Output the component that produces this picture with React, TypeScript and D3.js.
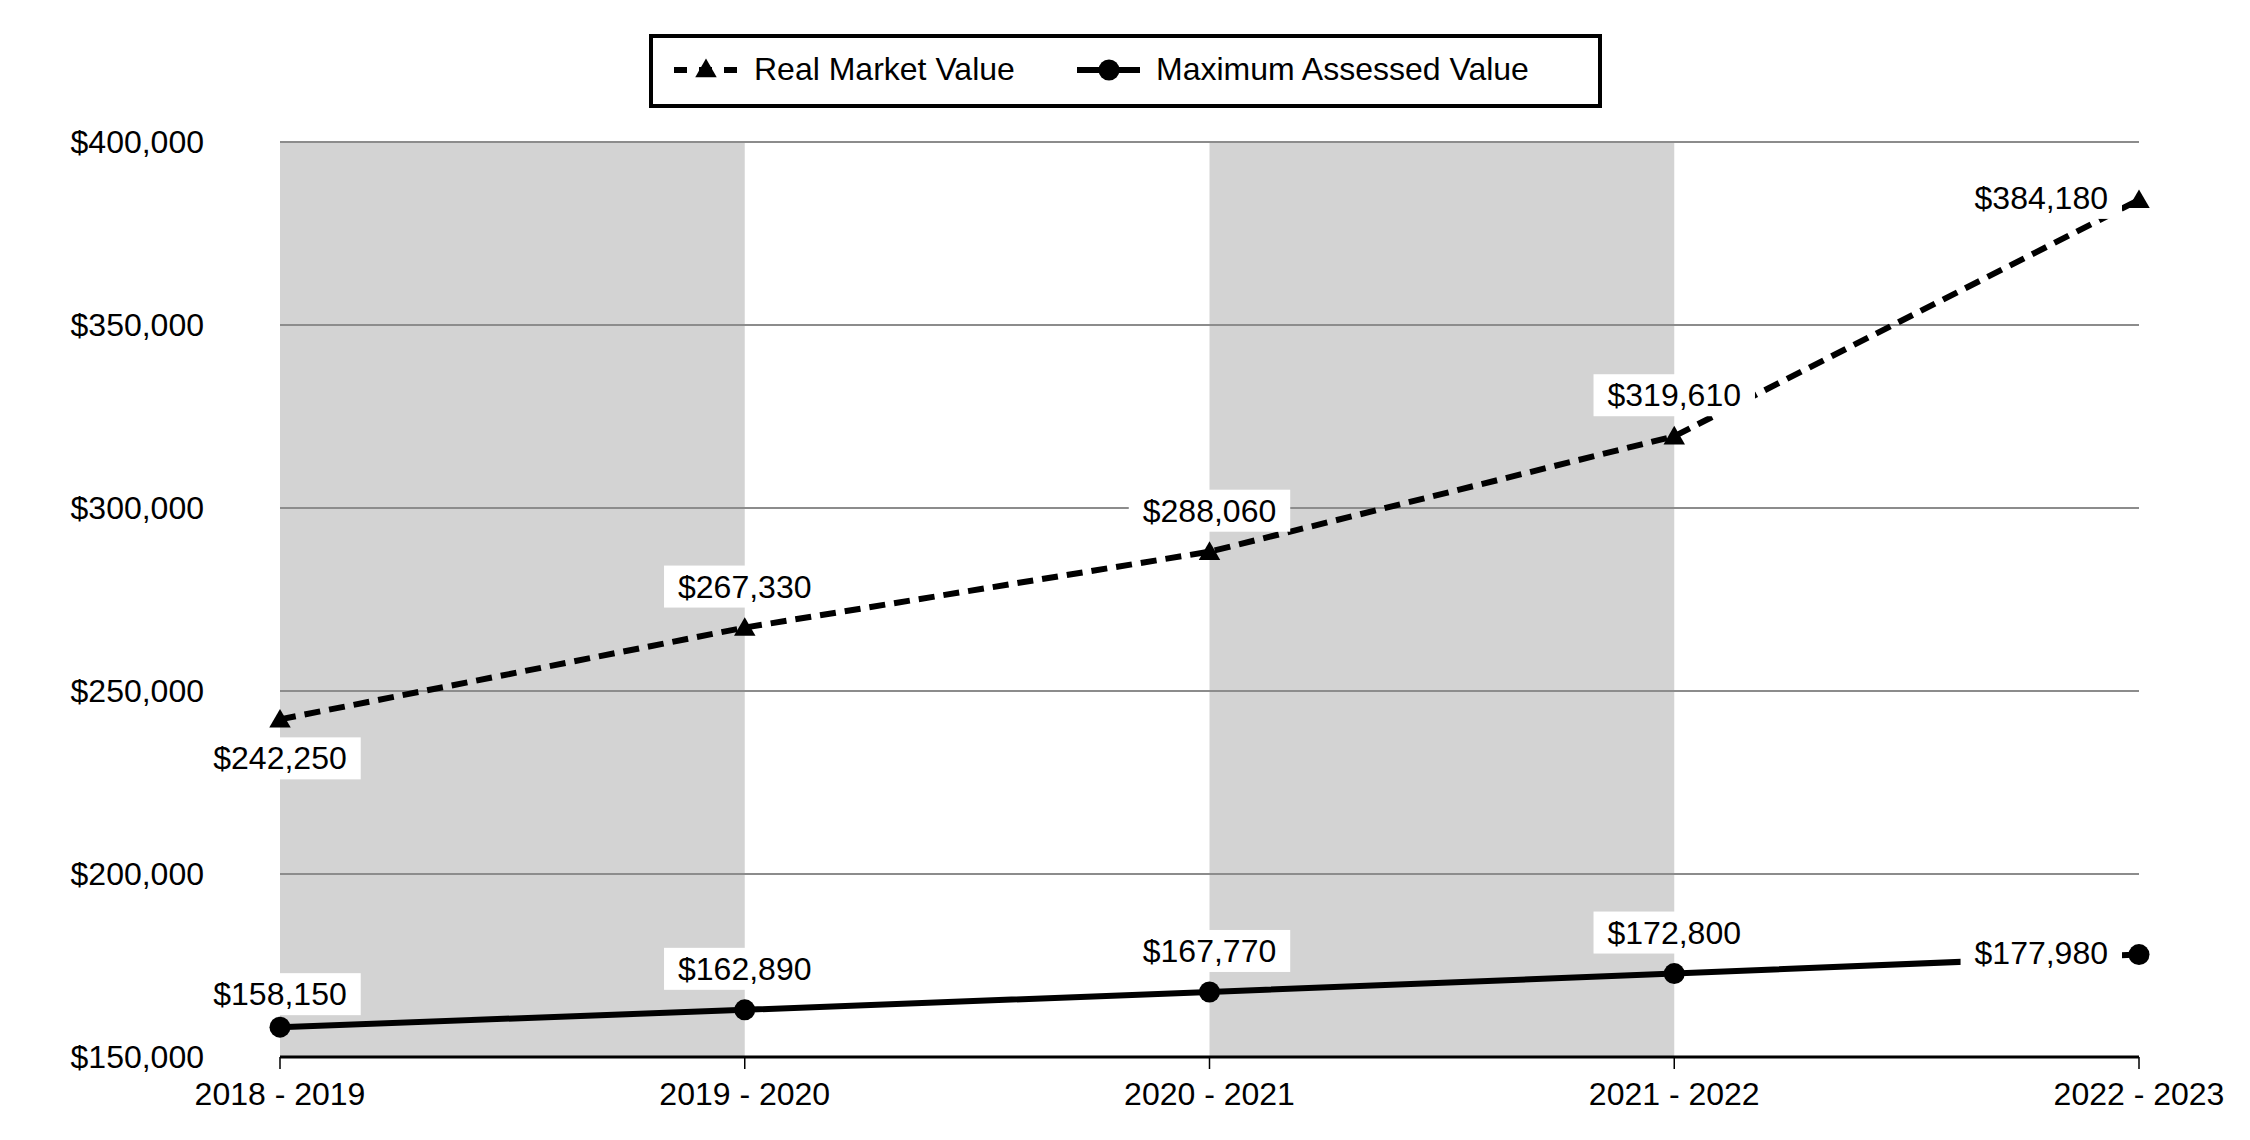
import { useEffect } from 'react';
import * as d3 from 'd3';

const categories = ['2018 - 2019', '2019 - 2020', '2020 - 2021', '2021 - 2022', '2022 - 2023'];
const realMarketValue = [242250, 267330, 288060, 319610, 384180];
const maxAssessedValue = [158150, 162890, 167770, 172800, 177980];
const yTicks = [150000, 200000, 250000, 300000, 350000, 400000];

// where each data label sits relative to its point
const rmvLabelPos = ['below', 'above', 'above', 'above', 'left'];
const mavLabelPos = ['above-near', 'above', 'above', 'above', 'left'];

const W = 2250;
const H = 1140;
const margin = { top: 142, right: 111, bottom: 83, left: 280 };
const FONT = '"Liberation Sans", Arial, sans-serif';
const FS = 32;

const fmt = d3.format('$,');

function labelBox(x: number, y: number, pos: string, text: string) {
  const w = 4.17 * FS; // width of "$xxx,xxx"
  const padX = 14;
  const h = 42;
  let cx = x;
  let cy = y;
  if (pos === 'above') cy = y - 41;
  else if (pos === 'above-near') cy = y - 33;
  else if (pos === 'below') cy = y + 39;
  else if (pos === 'left') {
    cx = x - 31 - w / 2;
    cy = y - 2;
  }
  return (
    <g key={text}>
      <rect x={cx - w / 2 - padX} y={cy - h / 2} width={w + padX * 2} height={h} fill="#fff" />
      <text x={cx} y={cy} textAnchor="middle" dominantBaseline="central" fontSize={FS} fontFamily={FONT} fill="#000">
        {text}
      </text>
    </g>
  );
}

export default function App() {
  useEffect(() => {
    document.body.style.margin = '0';
  }, []);

  const x = d3.scalePoint<string>().domain(categories).range([margin.left, W - margin.right]);
  const y = d3.scaleLinear().domain([150000, 400000]).range([H - margin.bottom, margin.top]);
  const x0 = margin.left;
  const x1 = W - margin.right;
  const yBottom = y(150000);

  const line = d3
    .line<number>()
    .x((_, i) => x(categories[i]) as number)
    .y((d) => y(d));

  const tri = d3.symbol().type(d3.symbolTriangle).size(200)() as string;

  const bands = categories.slice(0, -1).filter((_, i) => i % 2 === 0);

  return (
    <svg width={W} height={H} style={{ display: 'block', background: '#fff' }}>
      {/* alternating shaded columns */}
      {bands.map((c) => {
        const i = categories.indexOf(c);
        const a = x(categories[i]) as number;
        const b = x(categories[i + 1]) as number;
        return <rect key={c} x={a} y={margin.top} width={b - a} height={yBottom - margin.top} fill="#d3d3d3" />;
      })}

      {/* grid */}
      {yTicks.slice(1).map((t) => (
        <line key={t} x1={x0} x2={x1} y1={y(t)} y2={y(t)} stroke="#8c8c8c" strokeWidth={2} />
      ))}

      {/* y labels */}
      {yTicks.map((t) => (
        <text
          key={t}
          x={204}
          y={y(t)}
          textAnchor="end"
          dominantBaseline="central"
          fontSize={FS}
          fontFamily={FONT}
          fill="#000"
        >
          {fmt(t)}
        </text>
      ))}

      {/* x axis */}
      <line x1={x0} x2={x1} y1={yBottom} y2={yBottom} stroke="#000" strokeWidth={3} />
      {categories.map((c) => (
        <g key={c}>
          <line x1={x(c)} x2={x(c)} y1={yBottom} y2={yBottom + 12} stroke="#000" strokeWidth={1.5} />
          <text x={x(c)} y={1105} textAnchor="middle" fontSize={FS} fontFamily={FONT} fill="#000">
            {c}
          </text>
        </g>
      ))}

      {/* series */}
      <path d={line(realMarketValue) ?? ''} fill="none" stroke="#000" strokeWidth={6} strokeDasharray="16,9" />
      <path d={line(maxAssessedValue) ?? ''} fill="none" stroke="#000" strokeWidth={6} />

      {realMarketValue.map((v, i) => (
        <path key={'t' + i} d={tri} transform={`translate(${x(categories[i])},${y(v) + 2})`} fill="#000" />
      ))}
      {maxAssessedValue.map((v, i) => (
        <circle key={'c' + i} cx={x(categories[i])} cy={y(v)} r={10.5} fill="#000" />
      ))}

      {/* data labels */}
      {realMarketValue.map((v, i) => labelBox(x(categories[i]) as number, y(v), rmvLabelPos[i], fmt(v)))}
      {maxAssessedValue.map((v, i) => labelBox(x(categories[i]) as number, y(v), mavLabelPos[i], fmt(v)))}

      {/* legend */}
      <rect x={651} y={36} width={949} height={70} fill="#fff" stroke="#000" strokeWidth={4} />
      <line x1={674} x2={738} y1={70} y2={70} stroke="#000" strokeWidth={6} strokeDasharray="13,12" />
      <path d={tri} transform="translate(706,71)" fill="#000" />
      <text x={754} y={80} fontSize={FS} fontFamily={FONT} fill="#000">
        Real Market Value
      </text>
      <line x1={1077} x2={1140} y1={70} y2={70} stroke="#000" strokeWidth={6} />
      <circle cx={1109} cy={70} r={10.5} fill="#000" />
      <text x={1156} y={80} fontSize={FS} fontFamily={FONT} fill="#000">
        Maximum Assessed Value
      </text>
    </svg>
  );
}
